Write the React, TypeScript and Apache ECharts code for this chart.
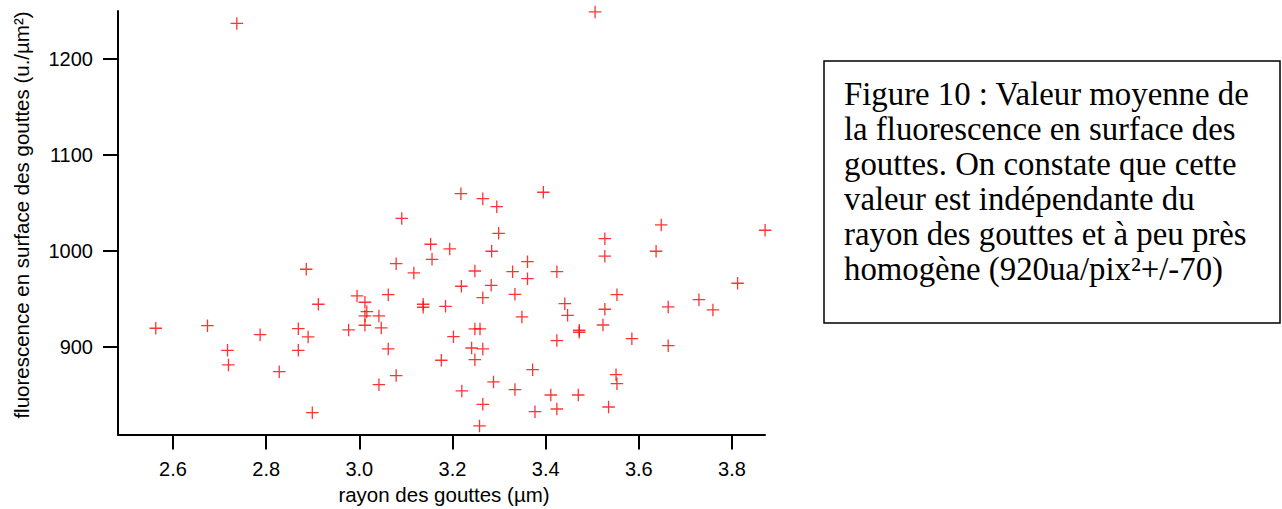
import React, { useEffect, useRef } from "react";
import * as echarts from "echarts";

const radius = [2.737,3.506,3.218,3.265,3.295,3.395,3.091,2.563,2.674,2.717,2.719,2.787,2.828,2.886,2.912,2.869,2.890,2.869,2.899,3.299,3.153,3.194,3.284,3.156,3.361,3.079,3.117,3.248,3.329,3.361,3.219,3.283,2.995,3.062,3.265,3.334,3.012,3.016,3.012,3.042,3.137,3.137,3.185,3.349,3.012,2.977,3.047,3.248,3.259,3.202,3.062,3.241,3.265,3.248,3.176,3.372,3.079,3.042,3.288,3.220,3.334,3.411,3.265,3.377,3.258,3.648,3.871,3.527,3.637,3.527,3.424,3.812,3.553,3.441,3.663,3.729,3.759,3.447,3.527,3.523,3.472,3.472,3.424,3.585,3.663,3.551,3.553,3.470,3.424,3.535];

const fluorescence = [1237,1249,1059.5,1054.3,1046,1061,1033.7,919.2,921.9,896.2,880.9,912.5,873.9,980.7,944.2,918.8,910.1,896.2,831.2,1018.2,1006.8,1001.9,999.5,991.1,988.6,986.5,976.9,978.9,978.2,970.9,963,964,952.9,954.2,951.1,954.6,946.3,936.5,932,932,944.2,941.1,942.1,931,922.3,917.4,919.5,918.5,918.5,910.4,897.6,898.6,897.6,886.4,885.8,876,869.8,860.4,863.2,853.8,855.2,849.6,839.9,832.2,817.3,1026.9,1021.4,1012.6,999.5,994.3,978.2,966.1,954.2,944.8,941.4,949,938.3,932.7,939,922.6,917.1,915,906.3,908.3,901,870.8,861.4,849.6,835,837.1];

const xTicks = [2.6, 2.8, 3.0, 3.2, 3.4, 3.6, 3.8];
const yTicks = [900, 1000, 1100, 1200];

const xTitle = "rayon des gouttes (µm)";
const yTitle = "fluorescence en surface des gouttes (u./µm²)";
const caption = [
  "Figure 10 : Valeur moyenne de",
  "la fluorescence en surface des",
  "gouttes. On constate que cette",
  "valeur est indépendante du",
  "rayon des gouttes et à peu près",
  "homogène (920ua/pix²+/-70)",
];

const SANS = "Liberation Sans, Arial, sans-serif";
const SERIF = "Liberation Serif, Times New Roman, serif";

export default function App() {
  const ref = useRef<HTMLDivElement>(null);
  useEffect(() => {
    if (!ref.current) return;
    const chart = echarts.init(ref.current, null, { renderer: "svg" });
    const axisCommon = {
      type: "value" as const,
      axisLine: { show: true, onZero: false, lineStyle: { color: "#000", width: 2 } },
      axisTick: { show: true, length: 15, inside: false, lineStyle: { color: "#000", width: 2 } },
      splitLine: { show: false },
    };
    chart.setOption({
      animation: false,
      backgroundColor: "#fff",
      grid: { left: 118, right: 517, top: 11, bottom: 74.5, containLabel: false },
      xAxis: {
        ...axisCommon,
        min: 2.4819,
        max: 3.8708,
        axisTick: { ...axisCommon.axisTick, customValues: xTicks },
        axisLabel: {
          customValues: xTicks,
          margin: 24,
          color: "#000",
          fontFamily: SANS,
          fontSize: 20,
          formatter: (v: number) => v.toFixed(1),
        },
      },
      yAxis: {
        ...axisCommon,
        min: 808.4,
        max: 1250,
        axisTick: { ...axisCommon.axisTick, customValues: yTicks },
        axisLabel: {
          customValues: yTicks,
          margin: 25,
          color: "#000",
          fontFamily: SANS,
          fontSize: 20,
          formatter: (v: number) => String(Math.round(v)),
        },
      },
      graphic: [
        {
          type: "text",
          x: 444,
          y: 494,
          style: {
            text: xTitle,
            font: `20.5px ${SANS}`,
            fill: "#000",
            align: "center",
            verticalAlign: "middle",
          },
        },
        {
          type: "text",
          x: 21,
          y: 215,
          rotation: Math.PI / 2,
          style: {
            text: yTitle,
            font: `20.5px ${SANS}`,
            fill: "#000",
            align: "center",
            verticalAlign: "middle",
          },
        },
        {
          type: "rect",
          shape: { x: 824, y: 61, width: 456, height: 262 },
          style: { fill: "#fff", stroke: "#000", lineWidth: 1.5 },
        },
        {
          type: "text",
          x: 844,
          y: 76,
          style: {
            text: caption.join("\n"),
            font: `32.8px ${SERIF}`,
            lineHeight: 35,
            fill: "#000",
            align: "left",
            verticalAlign: "top",
          },
        },
      ],
      series: [
        {
          type: "scatter",
          clip: false,
          data: radius.map((r, i) => [r, fluorescence[i]]),
          symbol: "path://M0,6L12,6M6,0L6,12",
          symbolSize: 12.5,
          itemStyle: { color: "none", borderColor: "#ff0000", borderWidth: 1.3 },
        },
      ],
    });
    return () => chart.dispose();
  }, []);
  return (
    <div
      ref={ref}
      style={{ position: "fixed", left: 0, top: 0, width: 1282, height: 509, background: "#fff" }}
    />
  );
}
